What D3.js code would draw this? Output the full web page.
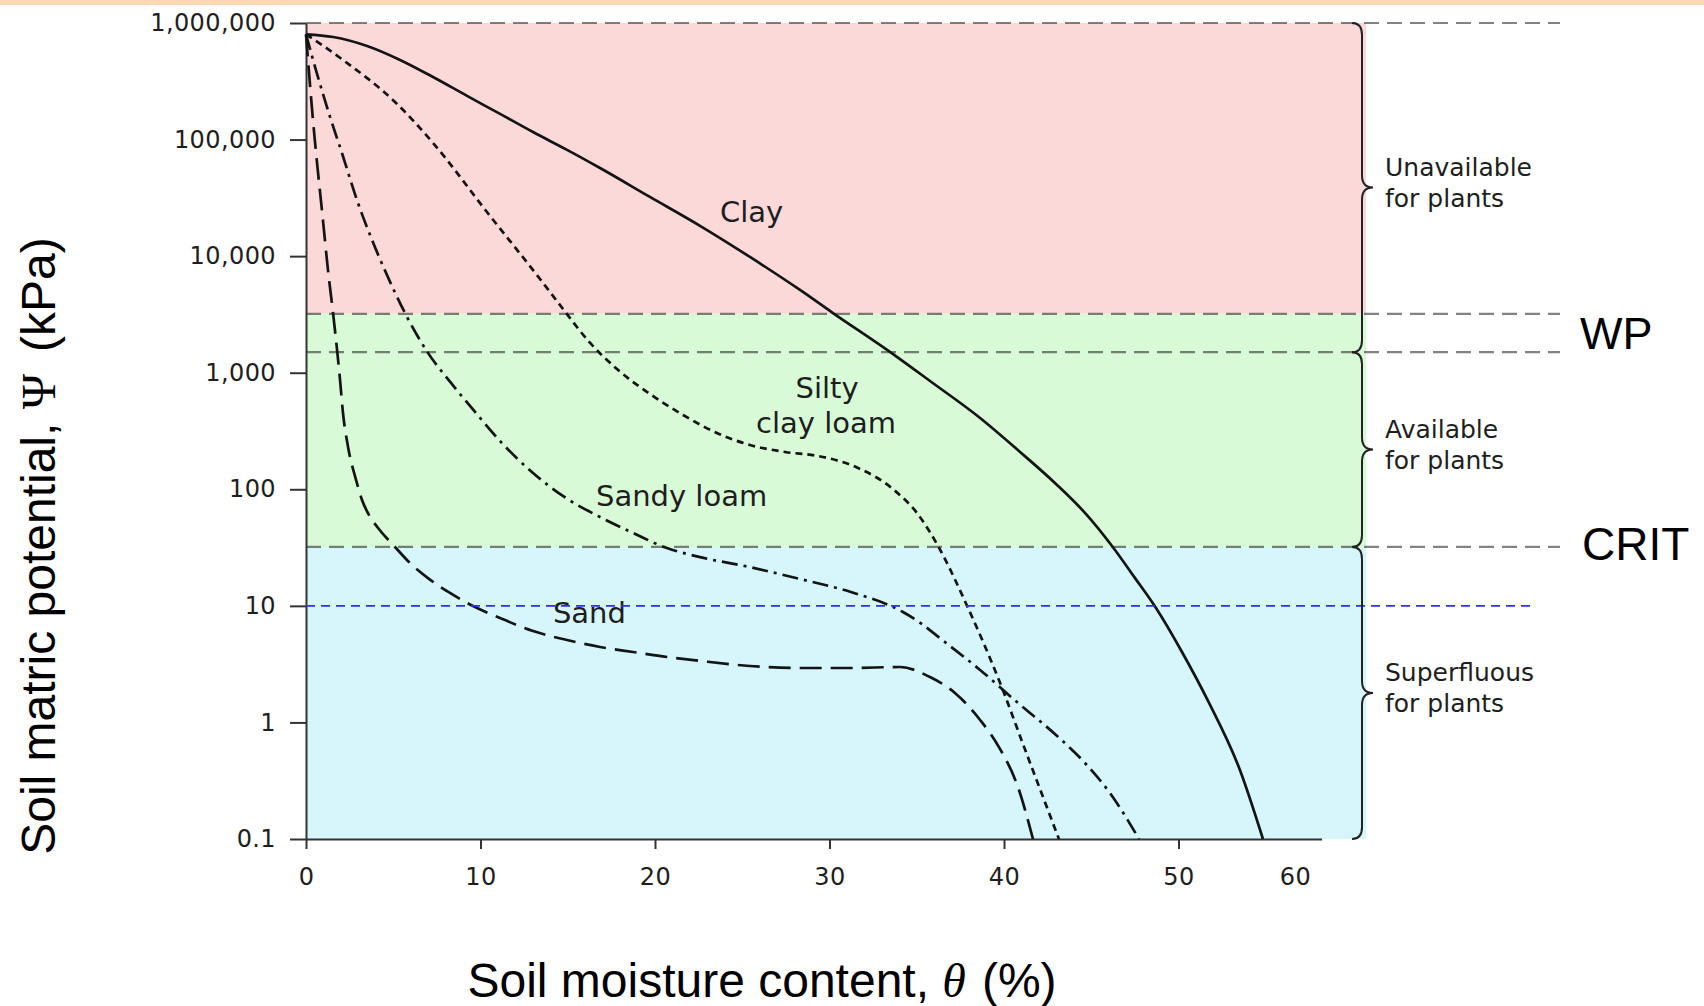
<!DOCTYPE html>
<html>
<head>
<meta charset="utf-8">
<script src="https://cdnjs.cloudflare.com/ajax/libs/d3/7.8.5/d3.min.js"></script>
<style>
    body { margin: 0; background: #fff; }
    svg { display: block; }
</style>
</head>
<body>
<svg id="chart" width="1704" height="1006"></svg>
<script>
'use strict';

// Soil moisture content (%) against matric potential (kPa)
var clayTheta = [0, 1.55, 3.5, 5.39, 7.28, 9.23, 11.12, 13.01, 14.96, 16.85, 19.71, 22.58, 25.44, 28.31, 30.2, 33.3, 35.76, 38.63, 40.92, 42.98, 44.64, 46.19, 47.51, 48.71, 50.2, 51.75, 53.52, 54.84];
var clayPsi = [800000, 758000, 635000, 482000, 344000, 237000, 166000, 116000, 81600, 57000, 32200, 18200, 9840, 5130, 3250, 1570, 849, 409, 209, 111, 62.7, 32.6, 17.3, 9.59, 4.02, 1.47, 0.391, 0.1];

var siltyTheta = [0, 2.12, 5.22, 7.28, 10.37, 13.41, 14.73, 16.28, 17.82, 19.71, 21.61, 23.55, 25.44, 27.45, 29.34, 31.52, 33.7, 35.01, 36.22, 37.94, 39.71, 41.26, 43.15];
var siltyPsi = [800000, 482000, 202000, 93500, 23900, 6370, 3520, 1800, 1075, 657, 434, 304, 240, 209, 193, 155, 98.6, 62.7, 32.6, 9.59, 2.31, 0.557, 0.1];

var sandyTheta = [0, 0.57, 1.38, 2.06, 2.92, 3.78, 4.59, 5.73, 6.99, 8.31, 9.74, 11.23, 13.01, 14.9, 16.85, 18.74, 20.69, 22.58, 25.44, 28.31, 31.18, 34.21, 35.3, 36.39, 38.63, 40.8, 42.98, 44.64, 46.07, 47.74];
var sandyPsi = [800000, 395000, 156000, 76700, 30300, 13800, 7160, 3130, 1480, 817, 451, 249, 138, 84.1, 57.8, 42.2, 31.3, 26.2, 21.5, 17.0, 13.2, 8.85, 6.98, 5.2, 2.82, 1.47, 0.78, 0.449, 0.248, 0.1];

var sandTheta = [0, 0.4, 0.97, 1.26, 1.55, 1.78, 1.95, 2.12, 2.41, 2.87, 3.21, 3.61, 4.13, 5.1, 5.96, 6.99, 8.25, 9.57, 11.12, 13.01, 14.96, 16.85, 18.74, 20.69, 22.58, 25.44, 28.31, 31.18, 34.04, 35.76, 37.19, 38.63, 39.71, 40.8, 41.66];
var sandPsi = [800000, 147000, 20400, 7600, 3250, 1570, 867, 451, 231, 120, 80.9, 60.1, 46.6, 32.0, 23.3, 17.3, 12.9, 9.97, 7.87, 6.08, 5.09, 4.44, 4.02, 3.64, 3.37, 3.05, 2.93, 2.93, 2.99, 2.45, 1.79, 1.05, 0.615, 0.279, 0.1];

// curve labels, placed in data space
var labelText = ['Clay', 'Silty', 'clay loam', 'Sandy loam', 'Sand'];
var labelTheta = [23.72, 29.86, 29.8, 16.62, 14.15];
var labelPsi = [19600, 605, 303, 72, 7.1];

// coloured bands (kPa)
var bandTop = [1000000, 3200, 32];
var bandBottom = [3200, 32, 0.1];

// braces on the right (kPa) and their captions
var braceTop = [1000000, 1500, 32];
var braceBottom = [1500, 32, 0.1];
var braceLine1 = ['Unavailable', 'Available', 'Superfluous'];
var braceLine2 = ['for plants', 'for plants', 'for plants'];

// grey dashed limits (kPa) and the blue field line
var limitValues = [1000000, 3200, 1500, 32];
var fieldLine = 10;

// axes
var yTickValues = [0.1, 1, 10, 100, 1000, 10000, 100000, 1000000];
var xTickValues = [0, 10, 20, 30, 40, 50];
var xLastLabel = '60';
var xLastLabelAt = 56.7;

var PLOT_LEFT = 306;
var PLOT_TOP = 23;
var PLOT_BOTTOM = 839;
var UNIT_W = 17.45;          // px per % moisture
var X_MAX = 58.2;            // end of the drawn x axis
var BAND_RIGHT = 1366;
var LIMIT_RIGHT = 1560;
var BRACE_X = 1362;
var TEXT_COLOR = '#1e1e1e';
var TICK_FONT = 'DejaVu Sans, sans-serif';
var TITLE_FONT = 'Liberation Sans, Arial, sans-serif';

var bandColors = ['#fcd9d9', '#d8fad6', '#d6f6fc'];

var svg = d3.select('#chart');

var x = d3.scaleLinear()
    .domain([0, X_MAX])
    .range([PLOT_LEFT, PLOT_LEFT + X_MAX * UNIT_W]);

var y = d3.scaleLog()
    .domain([0.1, 1000000])
    .range([PLOT_BOTTOM, PLOT_TOP]);

// peach strip along the top edge
svg.append('rect')
    .attr('x', 0).attr('y', 0)
    .attr('width', 1704).attr('height', 5)
    .style('fill', '#fdd6b2');

/*
 * Bands
 */
svg.append('g').selectAll('rect')
    .data(d3.range(bandTop.length))
    .enter().append('rect')
    .attr('x', x(0))
    .attr('y', function(i) { return y(bandTop[i]); })
    .attr('width', BAND_RIGHT - x(0))
    .attr('height', function(i) { return y(bandBottom[i]) - y(bandTop[i]); })
    .style('fill', function(i) { return bandColors[i]; });

// grey dashed limits
svg.append('g').selectAll('line')
    .data(limitValues)
    .enter().append('line')
    .attr('x1', x(0)).attr('x2', LIMIT_RIGHT)
    .attr('y1', function(d) { return y(d); })
    .attr('y2', function(d) { return y(d); })
    .style('stroke', '#2f2f2f')
    .style('stroke-opacity', 0.6)
    .style('stroke-width', 2.2)
    .style('stroke-dasharray', '15,8');

/*
 * Axes
 */
var yAxis = d3.axisLeft(y)
    .tickValues(yTickValues)
    .tickFormat(d3.format(','))
    .tickSize(16)
    .tickSizeOuter(0)
    .tickPadding(14);

var gy = svg.append('g')
    .attr('transform', 'translate(' + x(0) + ',0)')
    .call(yAxis);

var xAxis = d3.axisBottom(x)
    .tickValues(xTickValues)
    .tickFormat(d3.format('d'))
    .tickSize(10)
    .tickSizeOuter(0)
    .tickPadding(19);

var gx = svg.append('g')
    .attr('transform', 'translate(0,' + y(0.1) + ')')
    .call(xAxis);

gx.append('text')
    .attr('x', x(xLastLabelAt))
    .attr('y', 29)
    .attr('dy', '0.71em')
    .attr('text-anchor', 'middle')
    .text(xLastLabel);

[gx, gy].forEach(function(g) {
    g.attr('font-family', TICK_FONT).attr('font-size', 24);
    g.selectAll('.domain, .tick line')
        .style('stroke', '#333')
        .style('stroke-width', 2);
    g.selectAll('text')
        .style('fill', TEXT_COLOR)
        .style('letter-spacing', '0.4px');
});

/*
 * Curves
 */
var line = d3.line()
    .x(function(d) { return x(d[0]); })
    .y(function(d) { return y(d[1]); })
    .curve(d3.curveMonotoneX);

var curves = [
    { theta: clayTheta, psi: clayPsi, dash: null },
    { theta: siltyTheta, psi: siltyPsi, dash: '7,5' },
    { theta: sandyTheta, psi: sandyPsi, dash: '16,6,3,6' },
    { theta: sandTheta, psi: sandPsi, dash: '22,9' }
];

svg.append('g').selectAll('path')
    .data(curves)
    .enter().append('path')
    .attr('d', function(c) { return line(d3.zip(c.theta, c.psi)); })
    .style('fill', 'none')
    .style('stroke', '#141414')
    .style('stroke-width', 2.7)
    .style('stroke-dasharray', function(c) { return c.dash; });

// curve labels
var labelAnchor = ['start', 'middle', 'middle', 'start', 'start'];
svg.append('g').selectAll('text')
    .data(d3.range(labelText.length))
    .enter().append('text')
    .attr('x', function(i) { return x(labelTheta[i]); })
    .attr('y', function(i) { return y(labelPsi[i]); })
    .attr('text-anchor', function(i) { return labelAnchor[i]; })
    .style('font-family', TICK_FONT)
    .style('font-size', '29px')
    .style('fill', TEXT_COLOR)
    .text(function(i) { return labelText[i]; });

// blue dashed line sits over the labels
svg.append('line')
    .attr('x1', x(0)).attr('x2', 1534)
    .attr('y1', y(fieldLine)).attr('y2', y(fieldLine))
    .style('stroke', '#2f2ff0')
    .style('stroke-width', 1.6)
    .style('stroke-dasharray', '9,6');

/*
 * Braces and captions
 */
function bracePath(x0, y0, y1) {
    var xl = x0 - 10, xt = x0 + 11, r = 12, ym = (y0 + y1) / 2;
    var p = d3.path();
    p.moveTo(xl, y0);
    p.quadraticCurveTo(x0, y0, x0, y0 + r);
    p.lineTo(x0, ym - r);
    p.quadraticCurveTo(x0, ym, xt, ym);
    p.quadraticCurveTo(x0, ym, x0, ym + r);
    p.lineTo(x0, y1 - r);
    p.quadraticCurveTo(x0, y1, xl, y1);
    return p.toString();
}

var braces = svg.append('g').selectAll('g')
    .data(d3.range(braceTop.length))
    .enter().append('g');

braces.append('path')
    .attr('d', function(i) { return bracePath(BRACE_X, y(braceTop[i]), y(braceBottom[i])); })
    .style('fill', 'none')
    .style('stroke', '#222')
    .style('stroke-width', 2);

braces.append('text')
    .attr('x', BRACE_X + 23)
    .attr('y', function(i) { return (y(braceTop[i]) + y(braceBottom[i])) / 2 - 12; })
    .style('font-family', TICK_FONT)
    .style('font-size', '25px')
    .style('fill', TEXT_COLOR)
    .text(function(i) { return braceLine1[i]; });

braces.append('text')
    .attr('x', BRACE_X + 23)
    .attr('y', function(i) { return (y(braceTop[i]) + y(braceBottom[i])) / 2 + 19; })
    .style('font-family', TICK_FONT)
    .style('font-size', '25px')
    .style('fill', TEXT_COLOR)
    .text(function(i) { return braceLine2[i]; });

// WP and CRIT markers
svg.append('text')
    .attr('x', 1580)
    .attr('y', (y(3200) + y(1500)) / 2 + 16)
    .style('font-family', TITLE_FONT)
    .style('font-size', '45px')
    .style('fill', '#000')
    .text('WP');

svg.append('text')
    .attr('x', 1582)
    .attr('y', y(32) + 13)
    .style('font-family', TITLE_FONT)
    .style('font-size', '46px')
    .style('fill', '#000')
    .text('CRIT');

/*
 * Axis titles
 */
var yTitle = svg.append('text')
    .attr('transform', 'translate(55,546) rotate(-90)')
    .attr('text-anchor', 'middle')
    .style('font-family', TITLE_FONT)
    .style('font-size', '48px')
    .style('fill', '#000');
yTitle.append('tspan').text('Soil matric potential, ');
yTitle.append('tspan').style('font-family', 'Liberation Serif, serif').text('\u03A8');
yTitle.append('tspan').attr('dx', 22).text('(kPa)');

var xTitle = svg.append('text')
    .attr('x', 762)
    .attr('y', 997)
    .attr('text-anchor', 'middle')
    .style('font-family', TITLE_FONT)
    .style('font-size', '48px')
    .style('fill', '#000');
xTitle.append('tspan').text('Soil moisture content, ');
xTitle.append('tspan').style('font-family', 'Liberation Serif, serif').style('font-style', 'italic').text('\u03B8');
xTitle.append('tspan').attr('dx', 16).text('(%)');
</script>
</body>
</html>
